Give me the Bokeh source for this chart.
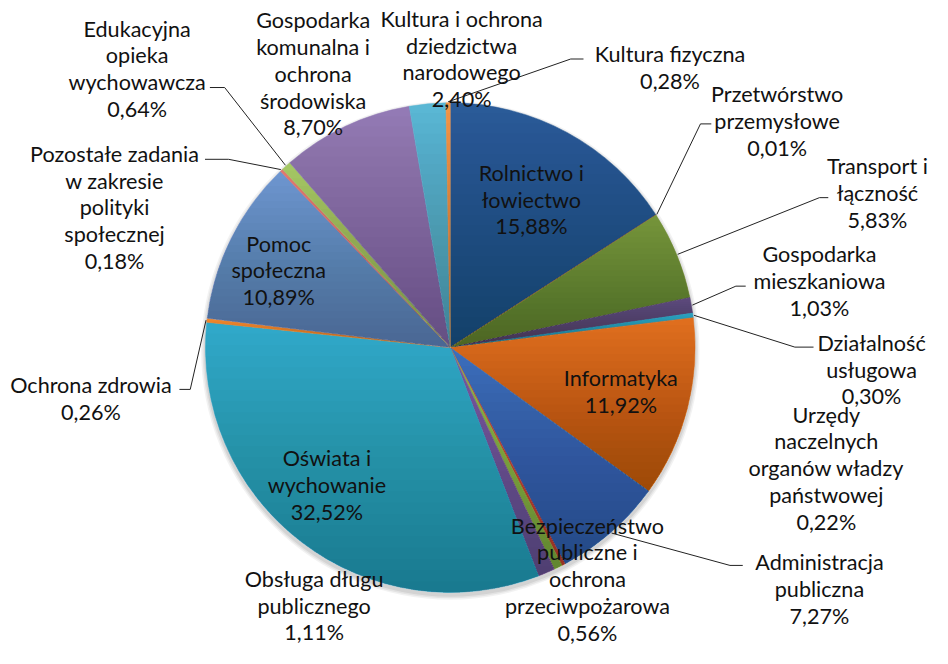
import numpy as np
import pandas as pd
from bokeh.plotting import figure
from bokeh.models import Range1d, ColumnDataSource
from bokeh.core.properties import value
from bokeh.embed import file_html
from bokeh.resources import INLINE

# ---------------- data ----------------
categories = [
    "Rolnictwo i łowiectwo", "Przetwórstwo przemysłowe", "Transport i łączność",
    "Gospodarka mieszkaniowa", "Działalność usługowa", "Informatyka",
    "Administracja publiczna", "Urzędy naczelnych organów władzy państwowej",
    "Bezpieczeństwo publiczne i ochrona przeciwpożarowa", "Obsługa długu publicznego",
    "Oświata i wychowanie", "Ochrona zdrowia", "Pomoc społeczna",
    "Pozostałe zadania w zakresie polityki społecznej", "Edukacyjna opieka wychowawcza",
    "Gospodarka komunalna i ochrona środowiska", "Kultura i ochrona dziedzictwa narodowego",
    "Kultura fizyczna",
]
shares = [15.88, 0.01, 5.83, 1.03, 0.30, 11.92, 7.27, 0.22, 0.56, 1.11,
          32.52, 0.26, 10.89, 0.18, 0.64, 8.70, 2.40, 0.28]
label_names = [
    "Rolnictwo i\nłowiectwo", "Przetwórstwo\nprzemysłowe", "Transport i\nłączność",
    "Gospodarka\nmieszkaniowa", "Działalność\nusługowa", "Informatyka",
    "Administracja\npubliczna", "Urzędy\nnaczelnych\norganów władzy\npaństwowej",
    "Bezpieczeństwo\npubliczne i\nochrona\nprzeciwpożarowa", "Obsługa długu\npublicznego",
    "Oświata i\nwychowanie", "Ochrona zdrowia", "Pomoc\nspołeczna",
    "Pozostałe zadania\nw zakresie\npolityki\nspołecznej", "Edukacyjna\nopieka\nwychowawcza",
    "Gospodarka\nkomunalna i\nochrona\nśrodowiska", "Kultura i ochrona\ndziedzictwa\nnarodowego",
    "Kultura fizyczna",
]

# ---------------- styles / layout ----------------
colors = ["#2B5D9A", "#C0504D", "#77963B", "#5F4A7E", "#2BA2C2", "#E2701F",
          "#3C6FBE", "#D24B3C", "#92BE48", "#7C5AA2", "#31ABCC", "#F58A2E",
          "#6F97D2", "#E37A72", "#A6CA66", "#957CB8", "#5CBAD7", "#F79646"]
# label block centres in reference pixels (y measured downward)
label_pos = [(540, 205), (790, 125), (892, 198), (833, 288), (886, 378), (631, 400),
             (833, 601), (840, 478), (597, 591), (319, 618), (332, 495), (92, 407),
             (283, 277), (116, 213), (139, 72), (318, 77), (469, 62), (681, 71)]
# leader line elbows (reference pixels)
leaders = {
    1: [(723, 128), (712, 128)],
    2: [(842, 203), (833, 203)],
    3: [(758, 293), (748, 293)],
    4: [(827, 355), (808, 355)],
    6: [(755, 577), (742, 577)],
    11: [(182, 398), (193, 398)],
    13: [(208, 164), (232, 164)],
    14: [(213, 91), (228, 91)],
    17: [(593, 62), (580, 62)],
}

PAGE_H = 664
CX, CY_PX, R = 457.5, 355.5, 249.0
CY = PAGE_H - CY_PX
FONT = "Lato"
FONT_PX = 22 * 932 / 948

df = pd.DataFrame({"category": categories, "share": shares, "color": colors})
cum_after = np.cumsum(df["share"].values)
cum_before = cum_after - df["share"].values
total = df["share"].sum()
df["start"] = np.pi / 2 - 2 * np.pi * cum_before / total
df["end"] = np.pi / 2 - 2 * np.pi * cum_after / total
df["mid"] = (df["start"] + df["end"]) / 2
df["label"] = [n + "\n" + f"{v:.2f}".replace(".", ",") + "%" for n, v in zip(label_names, shares)]
df["lx"] = [q[0] for q in label_pos]
df["ly"] = [PAGE_H - q[1] for q in label_pos]

p = figure(width=932, height=648, x_range=Range1d(0, 948), y_range=Range1d(2.5, 661.5),
           output_backend="svg", toolbar_location=None, min_border=0,
           x_axis_type=None, y_axis_type=None, title=None)
p.grid.visible = False
p.outline_line_color = None
p.background_fill_color = "white"
p.border_fill_color = "white"

# soft shadow below the pie
for dr, a in [(4.5, 0.05), (3.0, 0.06), (1.5, 0.07)]:
    p.circle(x=[CX], y=[CY - 3], radius=R + dr, fill_color="black", fill_alpha=a, line_color=None)

src = ColumnDataSource(df)
p.wedge(x=CX, y=CY, radius=R, start_angle="start", end_angle="end", direction="clock",
        fill_color="color", line_color="color", line_width=0.5, source=src)

# gradient shading: per-slice stacked translucent overlays, darker toward bottom
def clip_below(xs, ys, level):
    out_x, out_y = [], []
    n = len(xs)
    for i in range(n):
        x1, y1 = xs[i], ys[i]
        x2, y2 = xs[(i + 1) % n], ys[(i + 1) % n]
        in1, in2 = y1 <= level, y2 <= level
        if in1:
            out_x.append(x1); out_y.append(y1)
        if in1 != in2:
            t = (level - y1) / (y2 - y1)
            out_x.append(x1 + t * (x2 - x1)); out_y.append(level)
    return out_x, out_y

N = 24
alpha = 1 - (1 - 0.22) ** (1.0 / N)
sx, sy = [], []
for s, e in zip(df["start"], df["end"]):
    n_arc = max(3, int(abs(s - e) / 0.02))
    th = np.linspace(s, e, n_arc)
    px = [CX] + list(CX + R * np.cos(th))
    py = [CY] + list(CY + R * np.sin(th))
    top, bot = max(py), min(py)
    for k in range(N):
        lvl = top - (top - bot) * k / N
        cx_, cy_ = clip_below(px, py, lvl)
        if len(cx_) >= 3:
            sx.append(cx_); sy.append(cy_)
p.patches(xs=sx, ys=sy, fill_color="black", fill_alpha=alpha, line_color=None)

# leader lines: elbow points, then to the slice's mid-angle on the rim
lxs, lys = [], []
for i, pts in leaders.items():
    m = df["mid"].iloc[i]
    ex, ey = CX + (R + 1) * np.cos(m), CY + (R + 1) * np.sin(m)
    lxs.append([q[0] for q in pts] + [ex])
    lys.append([PAGE_H - q[1] for q in pts] + [ey])
p.multi_line(xs=lxs, ys=lys, line_color="#222222", line_width=1)

p.text(x="lx", y="ly", text="label", source=src, text_font=value(FONT),
       text_font_size=f"{FONT_PX:.1f}px", text_align="center", text_baseline="middle",
       text_line_height=1.03, text_color="#111111")

open("out.html", "w").write(file_html(p, INLINE))
